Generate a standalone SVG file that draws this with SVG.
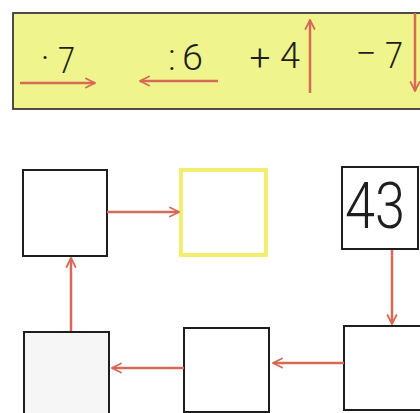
<svg xmlns="http://www.w3.org/2000/svg" width="420" height="413" viewBox="0 0 420 413">
<defs>
<style>
.box{fill:#ffffff;stroke:#1e1e1e;stroke-width:2}
.gray{fill:#f6f6f6}
.yel{fill:#ffffff;stroke:#f3ee6e;stroke-width:4}
.con{stroke:#d46a57;stroke-width:2.5;fill:none}
.lbl{font-family:Roboto,"Liberation Sans",Arial,sans-serif;font-weight:300;fill:#1e1e1e}
.op{font-size:37px}
</style>
<marker id="ah" viewBox="0 0 10 10" refX="9" refY="5" markerWidth="4.5" markerHeight="4.5" orient="auto" markerUnits="strokeWidth">
<path d="M1,1 L9,5 L1,9" fill="none" stroke="#d46a57" stroke-width="1.6" stroke-linecap="round"/>
</marker>
</defs>
<rect x="0" y="0" width="420" height="413" fill="#ffffff"/>
<g id="legend">
<rect x="13" y="13" width="412" height="96" fill="#eff48c" stroke="#3a3a3a" stroke-width="1.8"/>
<text class="lbl op" x="45" y="71" text-anchor="middle">·</text>
<text class="lbl op" x="58" y="73" textLength="17" lengthAdjust="spacingAndGlyphs">7</text>
<text class="lbl op" x="172" y="70" text-anchor="middle">:</text>
<text class="lbl op" x="182" y="70" textLength="21" lengthAdjust="spacingAndGlyphs">6</text>
<text class="lbl op" x="260" y="70" text-anchor="middle">+</text>
<text class="lbl op" x="280" y="68" textLength="20" lengthAdjust="spacingAndGlyphs">4</text>
<text class="lbl op" x="366" y="66" text-anchor="middle">−</text>
<text class="lbl op" x="385" y="68" textLength="18" lengthAdjust="spacingAndGlyphs">7</text>
<line class="con" x1="20" y1="83" x2="95" y2="83" marker-end="url(#ah)"/>
<line class="con" x1="218" y1="81" x2="140" y2="81" marker-end="url(#ah)"/>
<line class="con" x1="310" y1="93" x2="310" y2="20" marker-end="url(#ah)"/>
<line class="con" x1="415" y1="13" x2="415" y2="91" marker-end="url(#ah)"/>
</g>
<g id="n1"><rect class="box" x="23" y="170" width="84" height="86"/></g>
<g id="n2"><rect class="yel" x="181" y="170" width="85" height="85"/></g>
<g id="n3"><rect class="box" x="342" y="167" width="76" height="82"/>
<text class="lbl" x="345" y="228" font-size="64" textLength="60" lengthAdjust="spacingAndGlyphs">43</text></g>
<g id="n4"><rect class="box gray" x="24" y="332" width="85" height="90"/></g>
<g id="n5"><rect class="box" x="184" y="328" width="85" height="84"/></g>
<g id="n6"><rect class="box" x="344" y="326" width="85" height="84"/></g>
<g id="connectors">
<line class="con" x1="107" y1="212" x2="179" y2="212" marker-end="url(#ah)"/>
<line class="con" x1="392" y1="250" x2="392" y2="324" marker-end="url(#ah)"/>
<line class="con" x1="344" y1="363" x2="273" y2="363" marker-end="url(#ah)"/>
<line class="con" x1="184" y1="368" x2="112" y2="368" marker-end="url(#ah)"/>
<line class="con" x1="71" y1="331" x2="71" y2="258" marker-end="url(#ah)"/>
</g>
</svg>
